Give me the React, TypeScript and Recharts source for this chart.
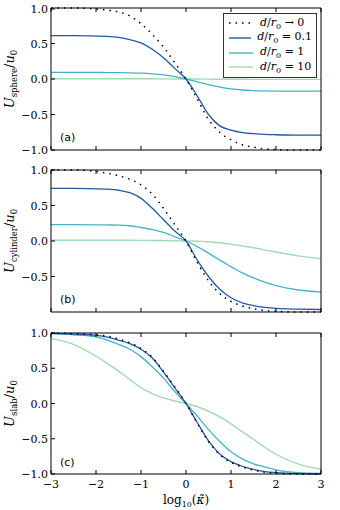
import React from 'react'
import { LineChart, Line, XAxis, YAxis } from 'recharts'

// log10(kappa) sample positions
const logKappa = [-3, -2.5, -2, -1.75, -1.5, -1.25, -1, -0.75, -0.5, -0.25, 0, 0.25, 0.5, 0.75, 1, 1.25, 1.5, 1.75, 2, 2.5, 3]
const xTicks = [-3, -2, -1, 0, 1, 2, 3]
const yTicks = [-1, -0.5, 0, 0.5, 1]

// (a) sphere
const sphereLimit = [1.0, 1.0, 0.985, 0.97, 0.945, 0.89, 0.78, 0.63, 0.45, 0.23, 0, -0.28, -0.57, -0.75, -0.855, -0.925, -0.96, -0.985, -0.995, -1.0, -1.0]
const sphere01 = [0.61, 0.61, 0.605, 0.6, 0.585, 0.555, 0.51, 0.42, 0.3, 0.15, 0, -0.24, -0.5, -0.66, -0.72, -0.755, -0.77, -0.78, -0.785, -0.79, -0.79]
const sphere1 = [0.094, 0.093, 0.092, 0.091, 0.09, 0.087, 0.082, 0.073, 0.058, 0.033, 0, -0.04, -0.08, -0.115, -0.14, -0.155, -0.163, -0.168, -0.17, -0.172, -0.172]
const sphere10 = [0.003, 0.003, 0.003, 0.003, 0.003, 0.003, 0.003, 0.003, 0.002, 0.001, 0, -0.001, -0.002, -0.003, -0.004, -0.004, -0.005, -0.005, -0.005, -0.005, -0.005]

// (b) cylinder
const cylLimit = [1.0, 1.0, 0.98, 0.955, 0.92, 0.87, 0.79, 0.66, 0.46, 0.23, 0, -0.3, -0.56, -0.74, -0.85, -0.915, -0.955, -0.98, -0.99, -1.0, -1.0]
const cyl01 = [0.74, 0.74, 0.735, 0.73, 0.715, 0.68, 0.6, 0.46, 0.3, 0.14, 0, -0.27, -0.5, -0.68, -0.8, -0.87, -0.91, -0.935, -0.95, -0.96, -0.965]
const cyl1 = [0.23, 0.23, 0.228, 0.226, 0.224, 0.215, 0.19, 0.16, 0.12, 0.06, 0, -0.08, -0.17, -0.27, -0.36, -0.45, -0.52, -0.58, -0.63, -0.69, -0.72]
const cyl10 = [0.01, 0.01, 0.01, 0.01, 0.01, 0.01, 0.009, 0.008, 0.006, 0.003, 0, -0.003, -0.01, -0.025, -0.045, -0.07, -0.095, -0.125, -0.155, -0.21, -0.25]

// (c) slab
const slabLimit = [1.0, 0.99, 0.975, 0.955, 0.915, 0.86, 0.78, 0.655, 0.455, 0.235, 0, -0.28, -0.54, -0.725, -0.835, -0.9, -0.945, -0.975, -0.99, -1.0, -1.0]
const slab01 = [0.995, 0.985, 0.965, 0.94, 0.9, 0.85, 0.77, 0.645, 0.445, 0.225, 0, -0.27, -0.53, -0.715, -0.825, -0.89, -0.935, -0.965, -0.98, -0.995, -1.0]
const slab1 = [0.99, 0.975, 0.945, 0.9, 0.84, 0.77, 0.665, 0.52, 0.36, 0.17, 0, -0.18, -0.37, -0.54, -0.685, -0.785, -0.855, -0.9, -0.94, -0.98, -0.99]
const slab10 = [0.92, 0.84, 0.67, 0.57, 0.46, 0.34, 0.225, 0.14, 0.08, 0.035, 0, -0.045, -0.11, -0.19, -0.29, -0.4, -0.51, -0.62, -0.72, -0.86, -0.93]

const legendLabels = ['→ 0', '= 0.1', '= 1', '= 10']
const colors = ['#000000', '#2558a6', '#41b6c4', '#a1dab4']

const SERIF = '"DejaVu Serif", serif'

const makeRows = (lim: number[], a: number[], b: number[], c: number[]) =>
    logKappa.map((k, i) => ({ k, lim: lim[i], d01: a[i], d1: b[i], d10: c[i] }))

const fmtY = (v: number) => (v < 0 ? '\u2212' : '') + Math.abs(v).toFixed(1)
const fmtX = (v: number) => (v < 0 ? '\u2212' : '') + Math.abs(v)

const BottomTick = ({ x, y, payload, label }: any) => (
    <g>
        <line x1={x} x2={x} y1={y} y2={y - 4} stroke="#000" strokeWidth={1} />
        {label && (
            <text x={x} y={y + 14} textAnchor="middle" fontFamily={SERIF} fontSize={11} fill="#000">
                {fmtX(payload.value)}
            </text>
        )}
    </g>
)
const TopTick = ({ x, y }: any) => <line x1={x} x2={x} y1={y} y2={y + 4} stroke="#000" strokeWidth={1} />
const LeftTick = ({ x, y, payload }: any) => (
    <g>
        <line x1={x} x2={x + 4} y1={y} y2={y} stroke="#000" strokeWidth={1} />
        <text x={x - 3} y={y + 4} textAnchor="end" fontFamily={SERIF} fontSize={11} fill="#000">
            {fmtY(payload.value)}
        </text>
    </g>
)
const RightTick = ({ x, y }: any) => <line x1={x} x2={x - 4} y1={y} y2={y} stroke="#000" strokeWidth={1} />

// rotated y-axis title: U_sub / u_0
const YTitle = ({ viewBox, sub }: any) => {
    const cx = 14
    const cy = viewBox.y + viewBox.height / 2
    return (
        <text transform={`translate(${cx},${cy}) rotate(-90)`} textAnchor="middle" fontFamily={SERIF} fontSize={13} fill="#000">
            <tspan fontStyle="italic">U</tspan>
            <tspan fontSize={8.5} dy={3}>{sub}</tspan>
            <tspan dy={-3}>/</tspan>
            <tspan fontStyle="italic">u</tspan>
            <tspan fontSize={8.5} dy={3}>0</tspan>
        </text>
    )
}

const LegendBox = () => (
    <div style={{ position: 'absolute', left: 223, top: 13, border: '1px solid #333', background: '#fff', padding: '2px 4px', width: 84 }}>
        {legendLabels.map((lab, i) => (
            <div key={i} style={{ display: 'flex', alignItems: 'center', height: 14.7 }}>
                <svg width={26} height={8} style={{ marginRight: 6 }}>
                    <line x1={1} x2={25} y1={4} y2={4} stroke={colors[i]} strokeWidth={i === 0 ? 1.5 : 1.4}
                        strokeDasharray={i === 0 ? '1.5 5' : undefined} />
                </svg>
                <span style={{ fontFamily: SERIF, fontSize: 11, whiteSpace: 'nowrap' }}>
                    <i>d</i>/<i>r</i><sub style={{ fontSize: 8, fontStyle: 'normal' }}>0</sub> {lab}
                </span>
            </div>
        ))}
    </div>
)

const Panel = ({ rows, top, height, margin, sub, tag, showX, legend }: any) => (
    <div style={{ position: 'absolute', left: 0, top }}>
        <LineChart width={340} height={height} data={rows} margin={margin}>
            <XAxis dataKey="k" type="number" domain={[-3, 3]} ticks={xTicks} height={1} tickSize={0} tickMargin={0}
                axisLine={{ stroke: '#000' }} tickLine={false} tick={(p: any) => <BottomTick {...p} label={showX} />} />
            <XAxis xAxisId="top" orientation="top" dataKey="k" type="number" domain={[-3, 3]} ticks={xTicks} height={1}
                tickSize={0} tickMargin={0} axisLine={{ stroke: '#000' }} tickLine={false} tick={(p: any) => <TopTick {...p} />} />
            <YAxis type="number" domain={[-1, 1]} ticks={yTicks} width={1} tickSize={0} tickMargin={0}
                axisLine={{ stroke: '#000' }} tickLine={false} tick={(p: any) => <LeftTick {...p} />}
                label={{ content: (p: any) => <YTitle {...p} sub={sub} /> }} />
            <YAxis yAxisId="right" orientation="right" type="number" domain={[-1, 1]} ticks={yTicks} width={1}
                tickSize={0} tickMargin={0} axisLine={{ stroke: '#000' }} tickLine={false} tick={(p: any) => <RightTick {...p} />} />
            <Line type="monotone" dataKey="d10" stroke={colors[3]} strokeWidth={1.4} dot={false} isAnimationActive={false} />
            <Line type="monotone" dataKey="d1" stroke={colors[2]} strokeWidth={1.3} dot={false} isAnimationActive={false} />
            <Line type="monotone" dataKey="d01" stroke={colors[1]} strokeWidth={1.3} dot={false} isAnimationActive={false} />
            <Line type="monotone" dataKey="lim" stroke="#000" strokeWidth={1.5} strokeDasharray="1.5 5" dot={false} isAnimationActive={false} />
        </LineChart>
        {legend && <LegendBox />}
        <div style={{ position: 'absolute', left: 60, top: margin.top + 124, fontFamily: '"DejaVu Sans", sans-serif', fontSize: 11 }}>
            {tag}
        </div>
    </div>
)

export default function App() {
    return (
        <div style={{ position: 'absolute', left: 0, top: 0, width: 340, height: 510, background: '#fff' }}>
            <Panel rows={makeRows(sphereLimit, sphere01, sphere1, sphere10)} top={0} height={160}
                margin={{ top: 7, right: 18, bottom: 9, left: 50 }} sub="sphere" tag="(a)" legend />
            <Panel rows={makeRows(cylLimit, cyl01, cyl1, cyl10)} top={160} height={160}
                margin={{ top: 9, right: 18, bottom: 7, left: 50 }} sub="cylinder" tag="(b)" />
            <Panel rows={makeRows(slabLimit, slab01, slab1, slab10)} top={320} height={190}
                margin={{ top: 12, right: 18, bottom: 35, left: 50 }} sub="slab" tag="(c)" showX />
            <div style={{ position: 'absolute', left: 0, width: 372, top: 493, textAlign: 'center', fontFamily: SERIF, fontSize: 12 }}>
                log<sub style={{ fontSize: 8 }}>10</sub>(<i>κ̃</i>)
            </div>
        </div>
    )
}
